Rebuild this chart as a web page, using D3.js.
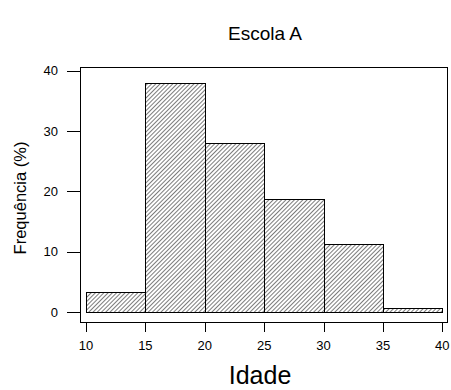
<!DOCTYPE html>
<html>
<head>
<meta charset="utf-8">
<script src="https://cdn.jsdelivr.net/npm/d3@7"></script>
<style>
  body { margin: 0; background: #fff; }
  text { font-family: "Liberation Sans", Arial, Helvetica, sans-serif; fill: #000; }
</style>
</head>
<body>
<script>
// histogram data
var breaks = [10, 15, 20, 25, 30, 35, 40];
var freq = [3.3, 38, 28, 18.7, 11.3, 0.6];
var xTicks = [10, 15, 20, 25, 30, 35, 40];
var yTicks = [0, 10, 20, 30, 40];
var title = "Escola A";
var xLabel = "Idade";
var yLabel = "Frequência (%)";

var width = 451, height = 390;
// frame of the plot region
var frame = {left: 80.5, right: 447.5, top: 67.5, bottom: 322.5};

var x = d3.scaleLinear().domain([10, 40]).range([86, 442.3]);
var y = d3.scaleLinear().domain([0, 40]).range([312, 70.7]);

var svg = d3.select("body").append("svg")
  .attr("width", width)
  .attr("height", height);

// hatch pattern
var defs = svg.append("defs");
defs.append("pattern")
  .attr("id", "hatch")
  .attr("patternUnits", "userSpaceOnUse")
  .attr("width", 3)
  .attr("height", 10)
  .attr("patternTransform", "rotate(45)")
  .append("line")
  .attr("x1", 1.5).attr("y1", 0)
  .attr("x2", 1.5).attr("y2", 10)
  .attr("stroke", "#444")
  .attr("stroke-width", 0.7);

var bins = freq.map(function(d, i) {
  return {x0: breaks[i], x1: breaks[i + 1], v: d};
});

svg.append("g").selectAll("rect").data(bins).enter()
  .append("rect")
  .attr("x", function(d) { return Math.round(x(d.x0)) + 0.5; })
  .attr("y", function(d) { return Math.round(y(d.v)) + 0.5; })
  .attr("width", function(d) { return Math.round(x(d.x1)) - Math.round(x(d.x0)); })
  .attr("height", function(d) { return Math.round(y(0)) - Math.round(y(d.v)); })
  .attr("fill", "url(#hatch)")
  .attr("stroke", "#000")
  .attr("stroke-width", 1);

// box
svg.append("rect")
  .attr("x", frame.left).attr("y", frame.top)
  .attr("width", frame.right - frame.left)
  .attr("height", frame.bottom - frame.top)
  .attr("fill", "none")
  .attr("stroke", "#000")
  .attr("stroke-width", 1);

// y axis ticks
var yg = svg.append("g");
yg.selectAll("line").data(yTicks).enter()
  .append("line")
  .attr("x1", 67).attr("x2", frame.left)
  .attr("y1", function(d) { return Math.round(y(d)) + 0.5; })
  .attr("y2", function(d) { return Math.round(y(d)) + 0.5; })
  .attr("stroke", "#000");
yg.selectAll("text").data(yTicks).enter()
  .append("text")
  .attr("x", 58)
  .attr("y", function(d) { return y(d); })
  .attr("dy", "0.35em")
  .attr("text-anchor", "end")
  .style("font-size", "13px")
  .text(function(d) { return d; });

// x axis ticks
var xg = svg.append("g");
xg.selectAll("line").data(xTicks).enter()
  .append("line")
  .attr("x1", function(d) { return Math.round(x(d)) + 0.5; })
  .attr("x2", function(d) { return Math.round(x(d)) + 0.5; })
  .attr("y1", frame.bottom).attr("y2", 332)
  .attr("stroke", "#000");
xg.selectAll("text").data(xTicks).enter()
  .append("text")
  .attr("x", function(d) { return x(d); })
  .attr("y", 345)
  .attr("dy", "0.35em")
  .attr("text-anchor", "middle")
  .style("font-size", "13px")
  .text(function(d) { return d; });

// labels
svg.append("text")
  .attr("x", 265).attr("y", 40)
  .attr("text-anchor", "middle")
  .style("font-size", "19px")
  .text(title);

svg.append("text")
  .attr("x", 260).attr("y", 384)
  .attr("text-anchor", "middle")
  .style("font-size", "25px")
  .text(xLabel);

svg.append("text")
  .attr("transform", "translate(26,198) rotate(-90)")
  .attr("text-anchor", "middle")
  .style("font-size", "16.5px")
  .text(yLabel);
</script>
</body>
</html>
